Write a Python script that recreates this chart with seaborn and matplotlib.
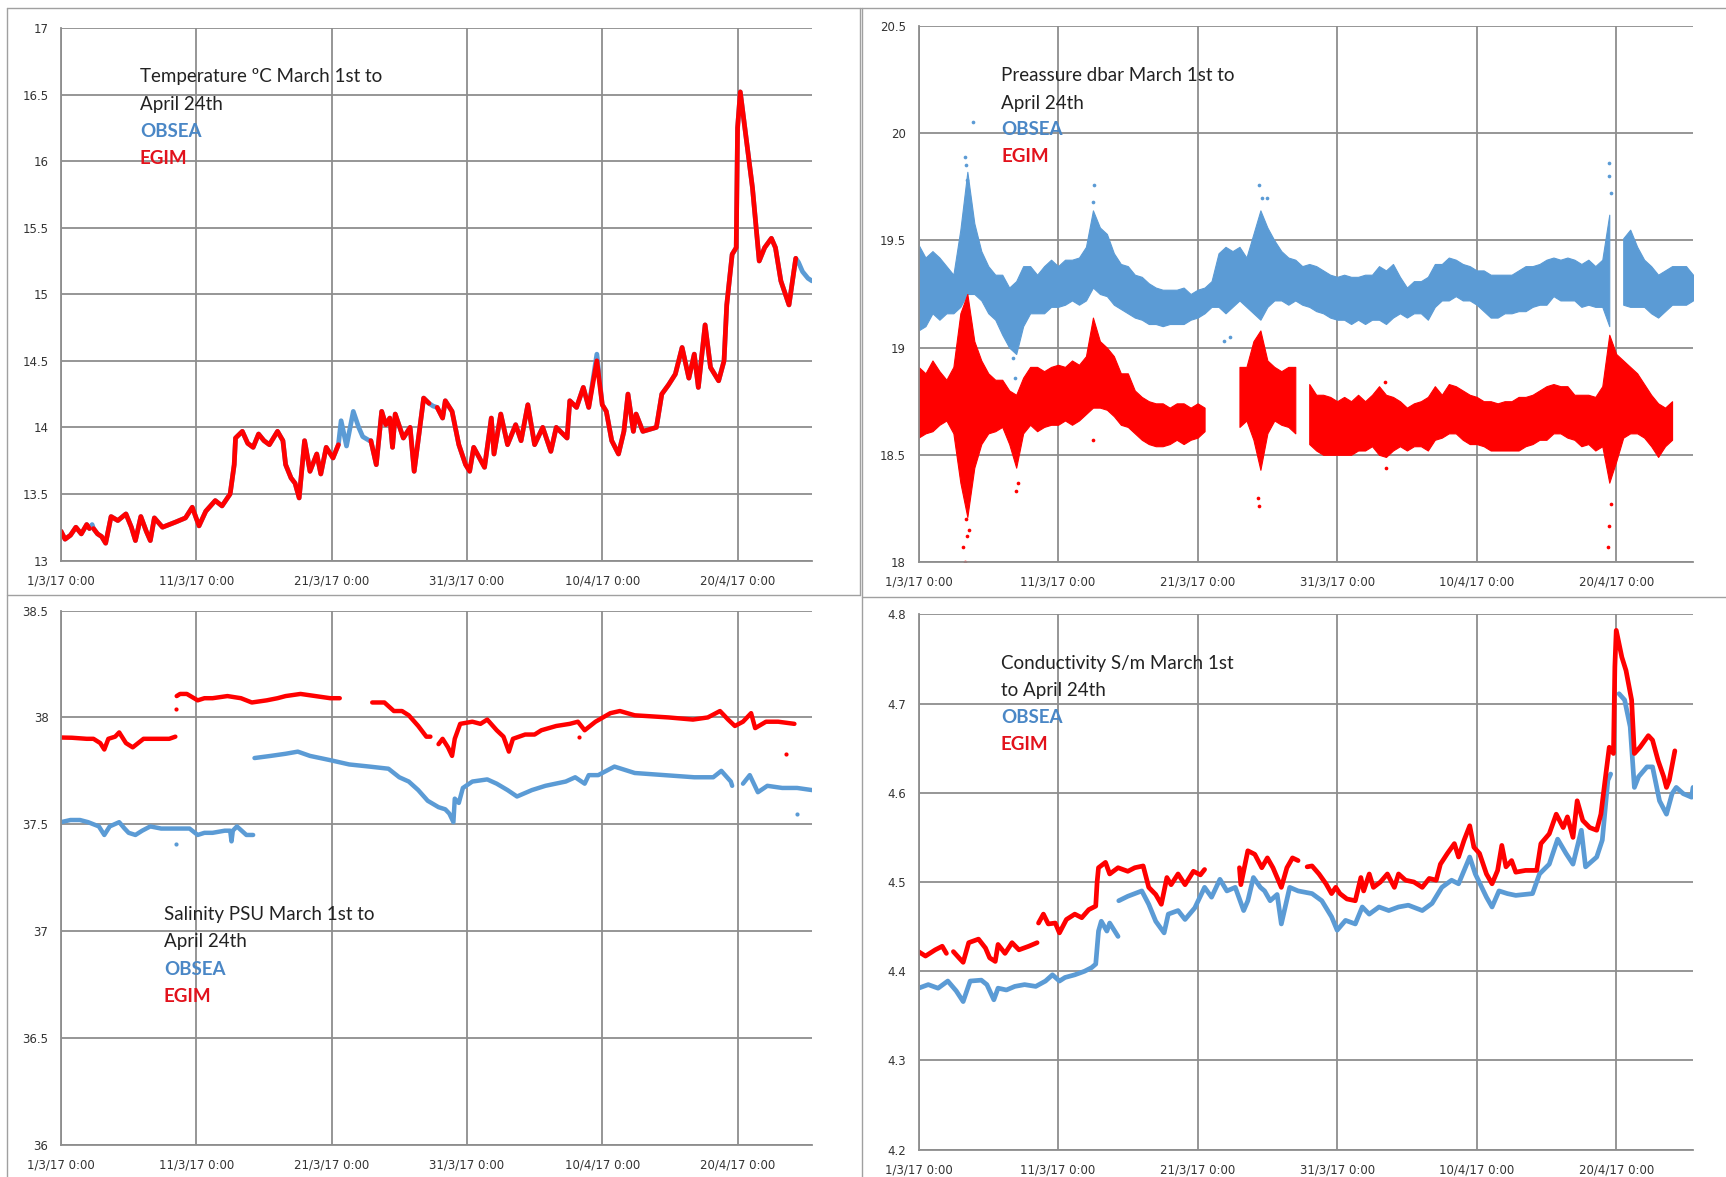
import numpy as np
import pandas as pd
import matplotlib
matplotlib.use("Agg")
import matplotlib.pyplot as plt
import matplotlib.dates as mdates
from matplotlib.lines import Line2D
import seaborn as sns

# ---------------------------------------------------------------- data
START = pd.Timestamp("2017-03-01")
date_tick_days = [0, 10, 20, 30, 40, 50]
date_tick_labels = ["1/3/17 0:00", "11/3/17 0:00", "21/3/17 0:00",
                    "31/3/17 0:00", "10/4/17 0:00", "20/4/17 0:00"]
x_end_day = 55.5
nan = np.nan

# Temperature (ºC); nan marks a gap in the record
egim_temp_days = [0, 0.3, 0.7, 1.1, 1.5, 1.9, 2.1, nan,
                  2.4, 2.7, 3.0, 3.3, 3.7, 4.2, 4.8, 5.2, 5.5, 5.9, 6.3, 6.6, 6.9, 7.5, 8.0, 8.5,
                  9.2, 9.7, 10.2, 10.7, 11.4, 11.9, 12.5, 12.8, 12.9, 13.4, 13.8, 14.2, 14.6,
                  15.0, 15.4, 16.0, 16.4, 16.6, 17.0, 17.3, 17.6, 18.0, 18.4, 18.9, 19.2, 19.6,
                  20.1, 20.5, nan,
                  22.9, 23.3, 23.7, 24.0, 24.3, 24.5, 24.7, 25.3, 25.8, 26.1, 26.8, 27.2, nan,
                  27.8, 28.2, 28.4, 28.9, 29.4, 29.9, 30.2, 30.5, 31.3, 31.8, 32.0, 32.5, 33.0,
                  33.6, 34.0, 34.5, 35.0, 35.6, 36.2, 36.6, 37.4, 37.6, 38.1, 38.6, 39.0, 39.6,
                  40.0, 40.3, 40.7, 41.2, 41.6, 41.9, 42.3, 42.5, 43.0, 44.0, 44.4, 44.9, 45.4,
                  45.9, 46.4, 46.8, 47.1, 47.6, 48.0, 48.6, 49.0, 49.2, 49.6, 49.9, 50.0, 50.2,
                  50.6, 51.1, 51.6, 52.0, 52.5, 52.8, 53.2, 53.8, 54.3]
egim_temp = [13.22, 13.16, 13.19, 13.25, 13.20, 13.27, 13.24, nan,
             13.24, 13.20, 13.18, 13.13, 13.33, 13.30, 13.35, 13.25, 13.15, 13.33, 13.22, 13.15, 13.32, 13.25, 13.27, 13.29,
             13.32, 13.40, 13.26, 13.37, 13.45, 13.41, 13.50, 13.72, 13.92, 13.97, 13.88, 13.85, 13.95,
             13.90, 13.87, 13.97, 13.90, 13.72, 13.62, 13.58, 13.47, 13.90, 13.67, 13.80, 13.65, 13.85,
             13.77, 13.87, nan,
             13.90, 13.72, 14.12, 14.02, 14.07, 13.85, 14.10, 13.92, 14.00, 13.67, 14.22, 14.18, nan,
             14.15, 14.07, 14.20, 14.12, 13.87, 13.72, 13.67, 13.85, 13.70, 14.07, 13.80, 14.10, 13.87,
             14.02, 13.90, 14.17, 13.87, 14.00, 13.82, 14.00, 13.92, 14.20, 14.15, 14.30, 14.15, 14.50,
             14.17, 14.12, 13.90, 13.80, 13.97, 14.25, 13.97, 14.10, 13.97, 14.00, 14.25, 14.32, 14.40,
             14.60, 14.37, 14.55, 14.30, 14.77, 14.45, 14.35, 14.50, 14.92, 15.30, 15.35, 16.25, 16.52,
             16.20, 15.80, 15.25, 15.35, 15.42, 15.35, 15.10, 14.92, 15.27]

obsea_temp_days = [0, 0.3, 0.7, 1.1, 1.5, 1.9, 2.1, 2.3,
                   2.4, 2.7, 3.0, 3.3, 3.7, 4.2, 4.8, 5.2, 5.5, 5.9, 6.3, 6.6, 6.9, 7.5, 8.0, 8.5,
                   9.2, 9.7, 10.2, 10.7, 11.4, 11.9, 12.5, 12.8, 12.9, 13.4, 13.8, 14.2, 14.6,
                   15.0, 15.4, 16.0, 16.4, 16.6, 17.0, 17.3, 17.6, 18.0, 18.4, 18.9, 19.2, 19.6,
                   20.1, 20.5, 20.7, 21.1, 21.6, 22.0, 22.3, 22.8,
                   22.9, 23.3, 23.7, 24.0, 24.3, 24.5, 24.7, 25.3, 25.8, 26.1, 26.8, 27.2, 27.5,
                   27.8, 28.2, 28.4, 28.9, 29.4, 29.9, 30.2, 30.5, 31.3, 31.8, 32.0, 32.5, 33.0,
                   33.6, 34.0, 34.5, 35.0, 35.6, 36.2, 36.6, 37.4, 37.6, 38.1, 38.6, 39.0, 39.6,
                   40.0, 40.3, 40.7, 41.2, 41.6, 41.9, 42.3, 42.5, 43.0, 44.0, 44.4, 44.9, 45.4,
                   45.9, 46.4, 46.8, 47.1, 47.6, 48.0, 48.6, 49.0, 49.2, 49.6, 49.9, 50.0, 50.2,
                   50.6, 51.1, 51.6, 52.0, 52.5, 52.8, 53.2, 53.8, 54.3, 54.5, 54.8, 55.2, 55.5]
obsea_temp = [13.22, 13.16, 13.19, 13.25, 13.20, 13.27, 13.24, 13.27,
              13.24, 13.20, 13.18, 13.13, 13.33, 13.30, 13.35, 13.25, 13.15, 13.33, 13.22, 13.15, 13.32, 13.25, 13.27, 13.29,
              13.32, 13.40, 13.26, 13.37, 13.45, 13.41, 13.50, 13.72, 13.92, 13.97, 13.88, 13.85, 13.95,
              13.90, 13.87, 13.97, 13.90, 13.72, 13.62, 13.58, 13.47, 13.90, 13.67, 13.80, 13.65, 13.85,
              13.77, 13.87, 14.05, 13.86, 14.12, 14.00, 13.93, 13.90,
              13.90, 13.72, 14.12, 14.02, 14.07, 13.85, 14.10, 13.92, 14.00, 13.67, 14.22, 14.18, 14.16,
              14.15, 14.07, 14.20, 14.12, 13.87, 13.72, 13.67, 13.85, 13.70, 14.07, 13.80, 14.10, 13.87,
              14.02, 13.90, 14.17, 13.87, 14.00, 13.82, 14.00, 13.92, 14.20, 14.15, 14.30, 14.15, 14.55,
              14.17, 14.12, 13.90, 13.80, 13.97, 14.25, 13.97, 14.10, 13.97, 14.00, 14.25, 14.32, 14.40,
              14.60, 14.37, 14.55, 14.30, 14.77, 14.45, 14.35, 14.50, 14.92, 15.30, 15.35, 16.25, 16.52,
              16.20, 15.80, 15.25, 15.35, 15.42, 15.35, 15.10, 14.92, 15.27, 15.24, 15.17, 15.12, 15.10]

# Pressure (dbar): lower / upper edge of the tidal band every half day
pres_days = np.arange(0, 56, 0.5)
obsea_pres_hi = [19.48, 19.42, 19.45, 19.42, 19.38, 19.34, 19.55, 19.82, 19.58, 19.45,
                 19.38, 19.34, 19.34, 19.28, 19.31, 19.38, 19.38, 19.34, 19.38, 19.41,
                 19.38, 19.41, 19.41, 19.42, 19.47, 19.64, 19.56, 19.53, 19.44, 19.39,
                 19.38, 19.34, 19.33, 19.30, 19.28, 19.27, 19.27, 19.27, 19.28, 19.25,
                 19.27, 19.28, 19.31, 19.44, 19.47, 19.45, 19.47, 19.42, 19.53, 19.64,
                 19.56, 19.50, 19.45, 19.42, 19.41, 19.38, 19.39, 19.38, 19.36, 19.34,
                 19.33, 19.34, 19.33, 19.33, 19.34, 19.34, 19.38, 19.36, 19.39, 19.33,
                 19.28, 19.31, 19.31, 19.33, 19.39, 19.39, 19.42, 19.41, 19.39, 19.38,
                 19.36, 19.36, 19.34, 19.34, 19.34, 19.34, 19.36, 19.38, 19.38, 19.39,
                 19.41, 19.42, 19.41, 19.42, 19.41, 19.39, 19.41, 19.38, 19.41, 19.62,
                 nan, 19.51, 19.55, 19.47, 19.41, 19.38, 19.34, 19.36, 19.38, 19.38,
                 19.38, 19.34]
obsea_pres_lo = [19.08, 19.10, 19.16, 19.13, 19.16, 19.16, 19.19, 19.25, 19.25, 19.22,
                 19.16, 19.13, 19.06, 19.00, 18.97, 19.10, 19.16, 19.16, 19.16, 19.19,
                 19.19, 19.20, 19.22, 19.20, 19.22, 19.28, 19.25, 19.24, 19.20, 19.18,
                 19.16, 19.14, 19.13, 19.11, 19.11, 19.10, 19.11, 19.11, 19.11, 19.13,
                 19.14, 19.16, 19.19, 19.19, 19.16, 19.19, 19.22, 19.19, 19.16, 19.13,
                 19.19, 19.22, 19.22, 19.20, 19.22, 19.20, 19.19, 19.17, 19.16, 19.14,
                 19.13, 19.13, 19.11, 19.13, 19.11, 19.13, 19.13, 19.11, 19.14, 19.16,
                 19.14, 19.16, 19.16, 19.13, 19.19, 19.22, 19.22, 19.24, 19.22, 19.22,
                 19.20, 19.17, 19.14, 19.14, 19.16, 19.16, 19.17, 19.17, 19.19, 19.20,
                 19.20, 19.24, 19.22, 19.22, 19.22, 19.19, 19.20, 19.19, 19.19, 19.10,
                 nan, 19.20, 19.19, 19.19, 19.19, 19.16, 19.14, 19.17, 19.20, 19.20,
                 19.20, 19.22]
egim_pres_hi = [18.91, 18.88, 18.94, 18.89, 18.85, 18.91, 19.16, 19.25, 19.03, 18.94,
                18.88, 18.85, 18.85, 18.80, 18.78, 18.86, 18.91, 18.91, 18.89, 18.91,
                18.92, 18.91, 18.94, 18.92, 18.96, 19.14, 19.03, 19.00, 18.96, 18.88,
                18.88, 18.80, 18.77, 18.75, 18.74, 18.74, 18.72, 18.74, 18.74, 18.72,
                18.74, 18.72, nan, nan, nan, nan, 18.91, 18.91, 19.03, 19.08,
                18.94, 18.91, 18.89, 18.91, 18.91, nan, 18.83, 18.78, 18.78, 18.77,
                18.75, 18.77, 18.75, 18.78, 18.75, 18.78, 18.82, 18.78, 18.77, 18.75,
                18.72, 18.74, 18.75, 18.77, 18.82, 18.78, 18.83, 18.82, 18.80, 18.78,
                18.77, 18.75, 18.75, 18.74, 18.75, 18.75, 18.77, 18.77, 18.78, 18.80,
                18.82, 18.83, 18.82, 18.82, 18.78, 18.78, 18.78, 18.77, 18.82, 19.06,
                18.97, 18.94, 18.91, 18.88, 18.83, 18.78, 18.74, 18.72, 18.75, nan,
                nan, nan]
egim_pres_lo = [18.58, 18.60, 18.61, 18.64, 18.66, 18.60, 18.37, 18.21, 18.44, 18.55,
                18.60, 18.61, 18.63, 18.55, 18.44, 18.60, 18.64, 18.61, 18.63, 18.64,
                18.64, 18.66, 18.64, 18.66, 18.69, 18.72, 18.72, 18.71, 18.68, 18.64,
                18.63, 18.60, 18.57, 18.55, 18.54, 18.54, 18.55, 18.57, 18.55, 18.57,
                18.58, 18.61, nan, nan, nan, nan, 18.63, 18.66, 18.57, 18.43,
                18.60, 18.66, 18.64, 18.63, 18.60, nan, 18.55, 18.52, 18.50, 18.50,
                18.50, 18.50, 18.50, 18.52, 18.52, 18.54, 18.50, 18.49, 18.52, 18.54,
                18.52, 18.54, 18.54, 18.52, 18.57, 18.58, 18.60, 18.60, 18.57, 18.55,
                18.55, 18.54, 18.52, 18.52, 18.52, 18.52, 18.52, 18.54, 18.55, 18.57,
                18.57, 18.60, 18.60, 18.58, 18.57, 18.54, 18.55, 18.52, 18.54, 18.37,
                18.47, 18.58, 18.60, 18.60, 18.58, 18.54, 18.49, 18.54, 18.57, nan,
                nan, nan]
# isolated readings outside the band
obsea_pres_out_days = [3.3, 3.4, 3.5, 3.9, 12.5, 12.6, 24.4, 24.6, 25.0, 49.5, 49.5, 49.6, 6.8, 6.9, 21.9, 22.3]
obsea_pres_out = [19.89, 19.85, 19.78, 20.05, 19.68, 19.76, 19.76, 19.70, 19.70, 19.86, 19.80, 19.72, 18.95, 18.86, 19.03, 19.05]
egim_pres_out_days = [3.2, 3.3, 3.4, 3.5, 3.6, 7.0, 7.1, 24.3, 24.4, 12.5, 49.4, 49.5, 49.6, 33.5, 33.4]
egim_pres_out = [18.07, 18.00, 18.20, 18.12, 18.15, 18.33, 18.37, 18.30, 18.26, 18.57, 18.07, 18.17, 18.27, 18.44, 18.84]

# Salinity (PSU)
egim_sal_days = [0, 0.8, 1.9, 2.4, 2.9, 3.2, 3.5, 4.0, 4.3, 4.8, 5.3, 5.7, 6.1, 6.8, 7.5, 8.0, 8.45, nan,
                 8.55, 8.8, 9.3, 10.1, 10.6, 11.2, 12.3, 13.3, 14.1, 15.2, 16.0, 16.6, 17.7, 18.8, 19.9, 20.6, nan,
                 23.0, 23.9, 24.6, 25.2, 25.7, 26.4, 27.0, 27.3, nan,
                 27.9, 28.2, 28.6, 28.9, 29.1, 29.5, 30.4, 31.0, 31.5, 32.2, 32.7, 33.1, 33.4, 34.3, 35.0,
                 35.5, 36.6, 37.6, 38.2, 38.7, 39.5, 40.6, 41.3, 42.4, 44.9, 46.7, 47.8, 48.7, 49.3, 49.8,
                 50.4, 51.0, 51.3, 52.1, 53.0, 54.2]
egim_sal = [37.906, 37.905, 37.90, 37.90, 37.88, 37.85, 37.90, 37.91, 37.93, 37.88, 37.86, 37.88, 37.90, 37.90, 37.90, 37.90, 37.91, nan,
            38.10, 38.11, 38.11, 38.08, 38.09, 38.09, 38.10, 38.09, 38.07, 38.08, 38.09, 38.10, 38.11, 38.10, 38.09, 38.09, nan,
            38.07, 38.07, 38.03, 38.03, 38.01, 37.96, 37.91, 37.91, nan,
            37.875, 37.90, 37.86, 37.82, 37.90, 37.97, 37.98, 37.97, 37.99, 37.94, 37.91, 37.84, 37.90, 37.92, 37.92,
            37.94, 37.96, 37.97, 37.98, 37.94, 37.98, 38.02, 38.03, 38.01, 38.00, 37.99, 38.00, 38.03, 37.99, 37.96,
            37.98, 38.02, 37.95, 37.98, 37.98, 37.97]
obsea_sal_days = [0, 0.7, 1.4, 2.0, 2.4, 2.8, 3.2, 3.6, 4.3, 4.7, 5.0, 5.5, 6.0, 6.6, 7.4, 8.3, 9.5, 10.1,
                  10.6, 11.2, 12.1, 12.5, 12.6, 12.7, 13.0, 13.7, 14.2, nan,
                  14.3, 15.5, 16.6, 17.5, 18.4, 19.9, 21.3, 22.8, 24.2, 25.0, 25.7, 26.4, 27.1, 27.9, 28.4,
                  28.7, 29.0, 29.1, 29.4, 29.7, 30.4, 31.5, 32.2, 33.0, 33.7, 34.8, 35.8, 37.3, 38.0, 38.7,
                  39.0, 39.7, 40.9, 42.4, 44.6, 46.8, 48.2, 48.8, 49.5, 49.6, nan,
                  50.4, 50.9, 51.5, 52.2, 53.3, 54.4, 55.5]
obsea_sal = [37.51, 37.52, 37.52, 37.51, 37.50, 37.49, 37.45, 37.49, 37.51, 37.48, 37.46, 37.45, 37.47, 37.49, 37.48, 37.48, 37.48, 37.45,
             37.46, 37.46, 37.47, 37.47, 37.42, 37.47, 37.49, 37.45, 37.45, nan,
             37.81, 37.82, 37.83, 37.84, 37.82, 37.80, 37.78, 37.77, 37.76, 37.72, 37.70, 37.66, 37.61, 37.58, 37.57,
             37.55, 37.51, 37.62, 37.60, 37.67, 37.70, 37.71, 37.69, 37.66, 37.63, 37.66, 37.68, 37.70, 37.72, 37.69,
             37.73, 37.73, 37.77, 37.74, 37.73, 37.72, 37.72, 37.75, 37.70, 37.68, nan,
             37.69, 37.73, 37.65, 37.68, 37.67, 37.67, 37.66]
egim_sal_out_days = [53.6, 38.3, 8.5]
egim_sal_out = [37.83, 37.91, 38.04]
obsea_sal_out_days = [54.4, 8.5]
obsea_sal_out = [37.55, 37.41]

# Conductivity (S/m)
egim_cond_days = [0, 0.5, 1.2, 1.7, 2.0, nan,
                  2.5, 2.9, 3.2, 3.6, 4.3, 4.8, 5.1, 5.5, 5.7, 6.2, 6.7, 7.2, 7.9, 8.5, nan,
                  8.6, 8.95, 9.3, 9.8, 10.1, 10.6, 11.2, 11.7, 12.2, 12.7, 12.8, 12.9, 13.4, 13.7, 14.3,
                  15.0, 15.5, 16.1, 16.5, 17.0, 17.4, 17.8, 18.1, 18.6, 19.1, 19.7, 20.2, 20.5, nan,
                  23.0, 23.1, 23.6, 24.1, 24.6, 25.0, 25.4, 26.0, 26.4, 26.8, 27.2, nan,
                  27.85, 28.2, 28.7, 29.2, 29.6, 29.9, 30.2, 30.7, 31.3, 31.7, 31.9, 32.3, 32.6, 33.1,
                  33.6, 34.1, 34.4, 34.9, 35.5, 36.1, 36.6, 37.1, 37.4, 37.9, 38.4, 38.7, 39.1, 39.5,
                  39.8, 40.2, 40.7, 41.1, 41.5, 41.8, 42.1, 42.5, 42.8, 43.5, 44.3, 44.6, 45.2, 45.7,
                  46.2, 46.5, 46.9, 47.2, 47.6, 48.1, 48.6, 48.9, 49.2, 49.5, 49.8, 49.9, 50.0, 50.4,
                  50.7, 51.1, 51.3, 51.7, 52.3, 52.6, 53.0, 53.4, 53.6, 53.8, 54.2]
egim_cond = [4.422, 4.417, 4.424, 4.428, 4.420, nan,
             4.422, 4.415, 4.410, 4.432, 4.436, 4.426, 4.415, 4.411, 4.430, 4.420, 4.432, 4.424, 4.428, 4.432, nan,
             4.454, 4.464, 4.453, 4.454, 4.443, 4.458, 4.464, 4.460, 4.469, 4.473, 4.500, 4.516, 4.522, 4.509, 4.516,
             4.512, 4.516, 4.518, 4.494, 4.486, 4.475, 4.505, 4.497, 4.509, 4.497, 4.512, 4.508, 4.514, nan,
             4.516, 4.497, 4.535, 4.531, 4.516, 4.527, 4.516, 4.494, 4.516, 4.527, 4.524, nan,
             4.517, 4.518, 4.509, 4.498, 4.487, 4.494, 4.487, 4.481, 4.479, 4.505, 4.490, 4.509, 4.494, 4.500,
             4.509, 4.494, 4.509, 4.502, 4.500, 4.494, 4.504, 4.502, 4.520, 4.532, 4.543, 4.528, 4.547, 4.563,
             4.539, 4.532, 4.509, 4.498, 4.513, 4.541, 4.517, 4.524, 4.511, 4.513, 4.513, 4.543, 4.554, 4.576,
             4.561, 4.573, 4.550, 4.591, 4.569, 4.561, 4.558, 4.576, 4.614, 4.651, 4.644, 4.741, 4.782, 4.752,
             4.737, 4.704, 4.644, 4.651, 4.664, 4.659, 4.636, 4.618, 4.606, 4.614, 4.647]
obsea_cond_days = [0, 0.7, 1.4, 2.1, 2.7, 3.2, 3.7, 4.5, 4.9, 5.4, 5.7, 6.3, 6.9, 7.6, 8.4, 9.1, 9.6,
                   10.1, 10.5, 11.2, 11.9, 12.4, 12.7, 12.9, 13.1, 13.5, 13.7, 14.3, nan,
                   14.35, 15.0, 16.0, 16.5, 17.0, 17.6, 17.9, 18.6, 19.1, 19.8, 20.5, 21.0, 21.6, 22.1,
                   22.7, 23.3, 23.6, 24.0, 24.5, 24.8, 25.2, 25.7, 26.0, 26.6, 27.2, 28.2, 28.9, 29.6,
                   30.0, 30.6, 31.3, 31.8, 32.3, 33.0, 33.7, 34.4, 35.1, 36.1, 36.8, 37.5, 38.2, 38.7,
                   39.5, 39.9, 40.7, 41.1, 41.6, 42.2, 42.8, 44.0, 44.5, 45.2, 45.8, 46.4, 46.9, 47.5,
                   47.8, 48.6, 49.0, 49.4, 49.6, nan,
                   50.2, 50.6, 51.0, 51.3, 51.6, 52.2, 52.6, 53.1, 53.6, 54.0, 54.3, 54.8, 55.4, 55.5]
obsea_cond = [4.381, 4.385, 4.381, 4.389, 4.378, 4.366, 4.389, 4.390, 4.385, 4.368, 4.381, 4.379, 4.383, 4.385, 4.383, 4.389, 4.396,
              4.389, 4.393, 4.396, 4.400, 4.404, 4.408, 4.445, 4.456, 4.445, 4.454, 4.439, nan,
              4.479, 4.484, 4.490, 4.475, 4.456, 4.443, 4.464, 4.468, 4.458, 4.471, 4.494, 4.483, 4.503, 4.490,
              4.494, 4.468, 4.479, 4.505, 4.494, 4.490, 4.479, 4.486, 4.453, 4.494, 4.490, 4.487, 4.479, 4.461,
              4.446, 4.457, 4.453, 4.472, 4.464, 4.472, 4.468, 4.472, 4.474, 4.468, 4.476, 4.494, 4.502, 4.498,
              4.528, 4.509, 4.483, 4.472, 4.490, 4.487, 4.485, 4.487, 4.509, 4.520, 4.548, 4.532, 4.520, 4.558,
              4.517, 4.528, 4.547, 4.614, 4.621, nan,
              4.711, 4.704, 4.674, 4.606, 4.618, 4.629, 4.629, 4.591, 4.576, 4.599, 4.606, 4.599, 4.595, 4.606]

temp_ticks = [13, 13.5, 14, 14.5, 15, 15.5, 16, 16.5, 17]
pres_ticks = [18, 18.5, 19, 19.5, 20, 20.5]
sal_ticks = [36, 36.5, 37, 37.5, 38, 38.5]
cond_ticks = [4.2, 4.3, 4.4, 4.5, 4.6, 4.7, 4.8]

panel_titles = {
    "temp": ["Temperature ºC March 1st to", "April 24th"],
    "pres": ["Preassure dbar March 1st to", "April 24th"],
    "sal": ["Salinity PSU March 1st to", "April 24th"],
    "cond": ["Conductivity S/m March 1st", "to April 24th"],
}
source_names = ["OBSEA", "EGIM"]

# ---------------------------------------------------------------- style
OBSEA_C = "#5B9BD5"
EGIM_C = "#FF0000"
OBSEA_TXT = "#4A87C6"
EGIM_TXT = "#E2121C"
GRID_C = "#8E8E8E"
TICK_FONT = ["Liberation Sans Narrow", "DejaVu Sans"]

sns.set_theme(style="white")
plt.rcParams["font.family"] = ["Lato", "DejaVu Sans"]

W, H = 1726, 1177
fig = plt.figure(figsize=(W / 100, H / 100), dpi=100)
fig.patch.set_facecolor("white")


def to_time(days):
    return START + pd.to_timedelta(np.asarray(days, float), unit="D")


def series_frame(days, values):
    d = np.asarray(days, float)
    v = np.asarray(values, float)
    seg = np.cumsum(np.isnan(v))
    keep = ~np.isnan(v)
    return pd.DataFrame({"time": to_time(d[keep]), "value": v[keep], "segment": seg[keep]})


def add_panel(left, top, right, bottom):
    return fig.add_axes([left / W, 1 - bottom / H, (right - left) / W, (bottom - top) / H])


def style_axes(ax, ticks):
    ax.set_xlim(mdates.date2num(to_time([0])[0]), mdates.date2num(to_time([x_end_day])[0]))
    ax.set_ylim(ticks[0], ticks[-1])
    ax.set_xticks([mdates.date2num(t) for t in to_time(date_tick_days)])
    ax.set_xticklabels(date_tick_labels)
    ax.set_yticks(ticks)
    ax.set_yticklabels([f"{t:g}" for t in ticks])
    ax.grid(True, color=GRID_C, linewidth=1.3)
    ax.set_axisbelow(True)
    for side in ("top", "right"):
        ax.spines[side].set_visible(False)
    for side in ("left", "bottom"):
        ax.spines[side].set_color(GRID_C)
        ax.spines[side].set_linewidth(1.3)
    ax.tick_params(axis="both", length=0, labelsize=8.5, labelcolor="#333333")
    ax.tick_params(axis="x", pad=10)
    ax.tick_params(axis="y", pad=9)
    for lab in ax.get_xticklabels() + ax.get_yticklabels():
        lab.set_family(TICK_FONT)
    ax.set_xlabel("")
    ax.set_ylabel("")
    ax.set_facecolor("white")


def draw_lines(ax, days, values, color, lw):
    df = series_frame(days, values)
    sns.lineplot(data=df, x="time", y="value", units="segment", estimator=None,
                 sort=False, color=color, linewidth=lw, ax=ax, legend=False)


def draw_band(ax, lo, hi, color):
    lo = np.asarray(lo, float)
    hi = np.asarray(hi, float)
    t = to_time(pres_days)
    ok = ~np.isnan(lo)
    seg = np.cumsum(~ok)
    for s in np.unique(seg[ok]):
        m = ok & (seg == s)
        ax.fill_between(t[m], lo[m], hi[m], color=color, linewidth=0.8, edgecolor=color)


def draw_dots(ax, days, values, color, size=7):
    df = pd.DataFrame({"time": to_time(days), "value": values})
    sns.scatterplot(data=df, x="time", y="value", color=color, s=size, linewidth=0, ax=ax, legend=False)


def annotate(ax, x, ys, lines):
    colors = ["#222222", "#222222", OBSEA_TXT, EGIM_TXT]
    weights = ["normal", "normal", "bold", "bold"]
    for txt, y, c, w in zip(lines + source_names, ys, colors, weights):
        ax.text(x, y, txt, transform=ax.transAxes, color=c, fontsize=13.5,
                fontweight=w, va="center", ha="left")


# ---------------------------------------------------------------- panels
ax_t = add_panel(61, 28, 812, 560.5)
draw_lines(ax_t, obsea_temp_days, obsea_temp, OBSEA_C, 3.4)
draw_lines(ax_t, egim_temp_days, egim_temp, EGIM_C, 3.4)
style_axes(ax_t, temp_ticks)
annotate(ax_t, 0.105, [0.909, 0.857, 0.806, 0.754], panel_titles["temp"])

ax_p = add_panel(918.5, 26, 1693, 562)
draw_band(ax_p, obsea_pres_lo, obsea_pres_hi, OBSEA_C)
draw_dots(ax_p, obsea_pres_out_days, obsea_pres_out, OBSEA_C)
draw_band(ax_p, egim_pres_lo, egim_pres_hi, EGIM_C)
draw_dots(ax_p, egim_pres_out_days, egim_pres_out, EGIM_C)
style_axes(ax_p, pres_ticks)
annotate(ax_p, 0.107, [0.908, 0.856, 0.806, 0.756], panel_titles["pres"])

ax_s = add_panel(61, 610.6, 812, 1144.8)
draw_lines(ax_s, obsea_sal_days, obsea_sal, OBSEA_C, 3.2)
draw_dots(ax_s, obsea_sal_out_days, obsea_sal_out, OBSEA_C, 9)
draw_lines(ax_s, egim_sal_days, egim_sal, EGIM_C, 3.2)
draw_dots(ax_s, egim_sal_out_days, egim_sal_out, EGIM_C, 9)
style_axes(ax_s, sal_ticks)
annotate(ax_s, 0.137, [0.432, 0.380, 0.329, 0.278], panel_titles["sal"])

ax_c = add_panel(918.5, 614.3, 1693, 1149.7)
draw_lines(ax_c, obsea_cond_days, obsea_cond, OBSEA_C, 3.4)
draw_lines(ax_c, egim_cond_days, egim_cond, EGIM_C, 3.4)
style_axes(ax_c, cond_ticks)
annotate(ax_c, 0.1065, [0.909, 0.857, 0.807, 0.756], panel_titles["cond"])

# thin frames around the four chart areas
FRAME_C = "#A0A0A0"
frame_segments = [
    ((7, 8), (1726, 8)),
    ((7, 8), (7, 1177)),
    ((860, 8), (860, 595)),
    ((862, 8), (862, 1177)),
    ((7, 595), (860, 595)),
    ((862, 597), (1726, 597)),
]
for (x0, y0), (x1, y1) in frame_segments:
    fig.add_artist(Line2D([x0 / W, x1 / W], [1 - y0 / H, 1 - y1 / H],
                          transform=fig.transFigure, color=FRAME_C, linewidth=1.0))

fig.savefig("out.png", dpi=100, facecolor="white")
